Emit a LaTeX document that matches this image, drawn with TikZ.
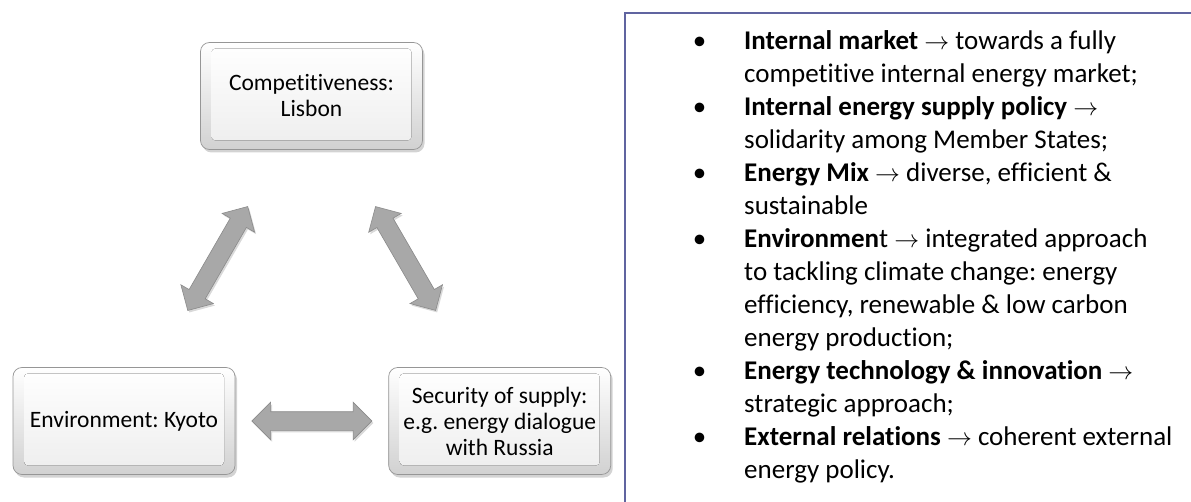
\documentclass[tikz,border=0pt]{standalone}
\usepackage{fontspec}
\setmainfont{Carlito}[Ligatures={NoCommon}]
\usetikzlibrary{positioning,calc,shapes.arrows,shadows}
\frenchspacing

\definecolor{panelblue}{RGB}{96,100,160}
\definecolor{arrowgray}{RGB}{168,168,168}
\definecolor{arrowedge}{RGB}{138,138,138}
\definecolor{boxedge}{RGB}{150,150,150}

% bullet sitting in the hanging indent
\newcommand\itm{\llap{\textbullet\hspace{38pt}}}
\newcommand\tto{$\rightarrow$}

\tikzset {
  % bevelled button for each pillar
  pillar/.style = {
    rectangle,
    rounded corners = 9pt,
    minimum width = 222pt,
    minimum height = 107pt,
    align = center,
    inner sep = 0pt,
    font = \fontsize{23.5}{26}\selectfont,
    draw = boxedge,
    line width = 0.7pt,
    top color = white,
    bottom color = black!18,
    drop shadow = {opacity=0.35, shadow xshift=2pt, shadow yshift=-3pt},
    path picture = {
      \fill[top color=white, bottom color=black!7, rounded corners=4pt]
        ([shift={(11pt,-6pt)}]path picture bounding box.north west)
        rectangle ([shift={(-11pt,9pt)}]path picture bounding box.south east);
    }
  },
  % two-headed block arrow between pillars
  link/.style = {
    double arrow,
    draw = arrowedge,
    fill = arrowgray,
    line width = 0.6pt,
    inner xsep = 0pt,
    inner ysep = 9pt,
    minimum height = 120pt,
    minimum width = 37pt,
    double arrow head extend = 9.5pt,
    drop shadow = {opacity=0.3, shadow xshift=1.5pt, shadow yshift=-2pt}
  },
  % frame round the list
  panel/.style = {
    draw = panelblue,
    line width = 2pt
  },
  goals/.style = {
    align = left,
    inner sep = 0pt,
    font = \fontsize{27}{33}\selectfont
  }
}

\begin{document}
\begin{tikzpicture}[x=1pt, y=-1pt]
    \useasboundingbox (0,0) rectangle (1191,502);

    \node[pillar] (env) at (124,421) {Environment: Kyoto};
    \node[pillar] (sec) [right=153pt of env] {Security of supply:\\e.g. energy dialogue\\with Russia};
    \node[pillar] (comp) at (311.5,96) {Competitiveness:\\Lisbon};

    % arrows between the pillars
    \path let \p1 = ($(env)-(comp)$), \n1 = {atan2(\y1,\x1)} in
      node[link, rotate=\n1] (comp-env) at ($(comp)!0.5!(env)$) {};
    \path let \p1 = ($(sec)-(comp)$), \n1 = {atan2(\y1,\x1)} in
      node[link, rotate=\n1] (comp-sec) at ($(comp)!0.5!(sec)$) {};
    \node[link] (env-sec) at ($(env)!0.5!(sec)$) {};

    % list of goals
    \coordinate (corner) at (625,13);
    \draw[panel] (1191,13) -- (corner) -- (625,502);

    \node[goals, anchor=north west] (list) at (744,30) {%
      \itm\textbf{Internal market} \tto{} towards a fully\\
      competitive internal energy market;\\
      \itm\textbf{Internal energy supply policy} \tto\\
      solidarity among Member States;\\
      \itm\textbf{Energy Mix} \tto{} diverse, efficient \&\\
      sustainable\\
      \itm\textbf{Environmen}t \tto{} integrated approach\\
      to tackling climate change: energy\\
      efficiency, renewable \& low carbon\\
      energy production;\\
      \itm\textbf{Energy technology \& innovation} \tto\\
      strategic approach;\\
      \itm\textbf{External relations} \tto{} coherent external\\
      energy policy.};
\end{tikzpicture}
\end{document}
